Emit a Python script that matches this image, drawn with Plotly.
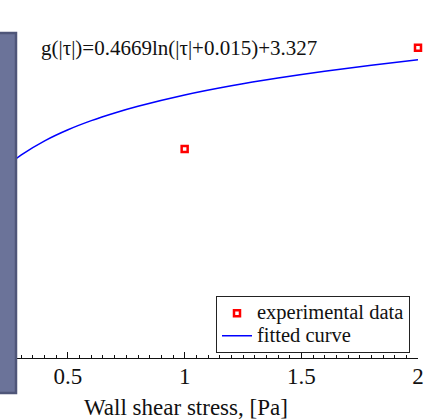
import plotly.graph_objects as go

exp_x = [1.0, 2.0]
exp_y = [2.842, 3.764]

# Fitted curve samples g(|tau|)
fit_x = [0.21, 0.25, 0.3, 0.4, 0.5, 0.6, 0.7, 0.8, 1.0, 1.2, 1.4, 1.6, 1.8, 2.0]
fit_y = [2.631, 2.707, 2.788, 2.916, 3.017, 3.100, 3.170, 3.231, 3.334, 3.418,
         3.489, 3.551, 3.605, 3.654]

tick_vals = [0.5, 1, 1.5, 2]
tick_text = ["0.5", "1", "1.5", "2"]

series_names = ["experimental data", "fitted curve"]
equation = "g(|τ|)=0.4669ln(|τ|+0.015)+3.327"
x_title = "Wall shear stress, [Pa]"

SERIF = "Liberation Serif, Times New Roman, serif"

W, H = 433, 420
ML, MR, MT, MB = 0, 15, 0, 62
PW, PH = W - ML - MR, H - MT - MB


def px(xp):
    return (xp - ML) / PW


def py(yp):
    return 1 - (yp - MT) / PH


def leg(name):
    return '<span style="font-size:20.5px">' + name + "</span>"


fig = go.Figure()
fig.add_trace(go.Scatter(
    x=exp_x, y=exp_y, mode="markers", name=leg(series_names[0]),
    marker=dict(symbol="square-open", size=6, color="#ff0000",
                line=dict(width=2.5, color="#ff0000")),
    cliponaxis=False,
))
fig.add_trace(go.Scatter(
    x=fit_x, y=fit_y, mode="lines", name=leg(series_names[1]),
    line=dict(color="#0000ff", width=1.5, shape="spline"),
))

fig.update_layout(
    width=W, height=H,
    margin=dict(l=ML, r=MR, t=MT, b=MB),
    paper_bgcolor="white", plot_bgcolor="white",
    font=dict(family=SERIF, color="#111111"),
    showlegend=True,
    legend=dict(
        x=px(410), xanchor="right", y=py(296), yanchor="top",
        bgcolor="white", bordercolor="#222222", borderwidth=1,
        font=dict(family=SERIF, size=15, color="#111111"),
        tracegroupgap=0,
    ),
    xaxis=dict(
        range=[0.2086, 2.0], showgrid=False, zeroline=False,
        showline=True, linecolor="#111111", linewidth=1,
        ticks="inside", ticklen=6, tickcolor="#111111", tickwidth=1,
        tickvals=tick_vals, ticktext=tick_text,
        ticklabelstandoff=-3,
        tickfont=dict(family=SERIF, size=23, color="#111111"),
        minor=dict(dtick=0.05, tick0=0, ticks="inside", ticklen=3,
                   tickcolor="#111111", tickwidth=1),
    ),
    yaxis=dict(range=[0.935, 4.2], visible=False, showgrid=False, zeroline=False),
)

fig.add_annotation(
    text=equation, xref="paper", yref="paper", x=px(39), y=py(48),
    xanchor="left", yanchor="middle", showarrow=False,
    font=dict(family=SERIF, size=21, color="#111111"),
)
fig.add_annotation(
    text=x_title, xref="x", yref="paper", x=1.006, y=py(408),
    xanchor="center", yanchor="middle", showarrow=False,
    font=dict(family=SERIF, size=23, color="#111111"),
)

# Overlapping slide panel on the left
fig.add_shape(
    type="rect", xref="paper", yref="paper",
    x0=px(-6), x1=px(16), y0=py(393), y1=py(33),
    fillcolor="#6b7399", line=dict(color="#4f5679", width=2.5),
    layer="above",
)

fig.write_html("out.html")
